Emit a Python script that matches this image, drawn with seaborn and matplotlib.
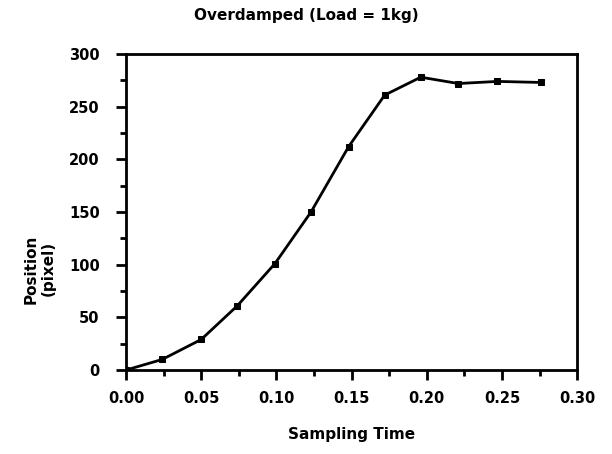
import numpy as np
import pandas as pd
import seaborn as sns
import matplotlib.pyplot as plt
from matplotlib.ticker import MultipleLocator

# values
sampling_time = [0.0, 0.024, 0.050, 0.074, 0.099, 0.123, 0.148, 0.172, 0.196, 0.221, 0.247, 0.276]
position = [0, 10, 29, 61, 101, 150, 212, 261, 278, 272, 274, 273]
x_ticks = [0.00, 0.05, 0.10, 0.15, 0.20, 0.25, 0.30]
y_ticks = [0, 50, 100, 150, 200, 250, 300]

df = pd.DataFrame({'time': sampling_time, 'pos': position})

sns.set_style('white')
plt.rcParams['font.family'] = ['DejaVu Sans']
plt.rcParams['text.color'] = 'black'
plt.rcParams['axes.labelcolor'] = 'black'

fig = plt.figure(figsize=(6.12, 4.54), dpi=100)
ax = fig.add_axes([0.206, 0.185, 0.737, 0.696])

sns.lineplot(data=df, x='time', y='pos', ax=ax, color='black', linewidth=2,
             marker='s', markersize=4, markeredgecolor='black')

ax.set_xlim(0, 0.30)
ax.set_ylim(0, 300)
ax.set_xticks(x_ticks)
ax.set_xticklabels([f'{t:.2f}' for t in x_ticks])
ax.set_yticks(y_ticks)
ax.xaxis.set_minor_locator(MultipleLocator(0.025))
ax.yaxis.set_minor_locator(MultipleLocator(25))
ax.tick_params(axis='y', which='major', pad=12)
ax.tick_params(axis='x', which='major', pad=8)
ax.tick_params(which='major', direction='out', length=7, width=2, colors='black',
               labelsize=10.5, bottom=True, left=True, top=False, right=False)
ax.tick_params(which='minor', direction='out', length=4, width=2, colors='black',
               bottom=True, left=True, top=False, right=False)
for lbl in ax.get_xticklabels() + ax.get_yticklabels():
    lbl.set_fontweight('bold')

for side in ['left', 'right', 'top', 'bottom']:
    ax.spines[side].set_visible(True)
    ax.spines[side].set_color('black')
    ax.spines[side].set_linewidth(2)

# title sits centred on the page, not on the axes
fig.text(0.5, 0.965, 'Overdamped (Load = 1kg)', ha='center', va='center',
         fontweight='bold', fontsize=11, color='black')
ax.set_xlabel('Sampling Time', fontweight='bold', fontsize=11, labelpad=15)
ax.set_ylabel('Position\n(pixel)', fontweight='bold', fontsize=11)
ax.yaxis.set_label_coords(-0.155, 0.32)

fig.savefig('out.png', dpi=100)
